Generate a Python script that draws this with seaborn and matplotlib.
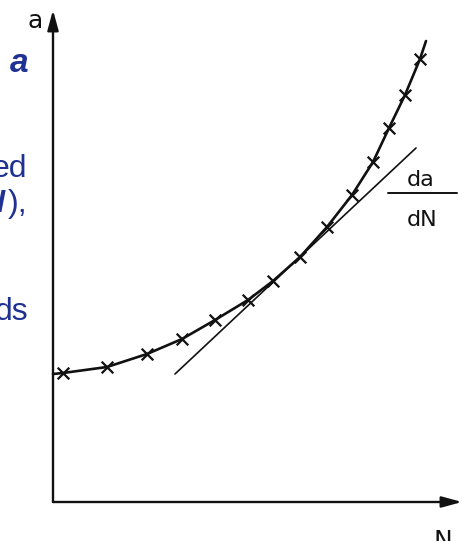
import numpy as np
import matplotlib
matplotlib.use('Agg')
import matplotlib.pyplot as plt
import seaborn as sns
import pandas as pd

# crack length a against number of cycles N (arbitrary units)
curve_N = [0.0, 0.25, 1.35, 2.35, 3.225, 4.05, 4.875, 5.5, 6.175, 6.85,
           7.475, 8.0, 8.4, 8.8, 9.175, 9.325]
curve_a = [3.2, 3.225, 3.375, 3.7, 4.075, 4.55, 5.05, 5.525, 6.125, 6.875,
           7.675, 8.5, 9.35, 10.175, 11.075, 11.525]

# measured points (crosses)
meas_N = curve_N[1:-1]
meas_a = curve_a[1:-1]

# tangent giving da/dN
tangent_N = [3.05, 9.075]
tangent_a = [3.2, 8.85]

# slide text peeking in from the left
blau = '#1f3192'
sketch_font = ['Liberation Sans Narrow', 'DejaVu Sans']

sns.set_style("white")
plt.rcParams['font.family'] = ['Liberation Sans', 'DejaVu Sans']

W, H = 462, 541
fig = plt.figure(figsize=(W / 100, H / 100), dpi=100)
ax = fig.add_axes([0, 0, 1, 1])
ax.set_xlim(-53 / 40, (W - 53) / 40)
ax.set_ylim((502 - H) / 40, 502 / 40)
ax.set_axis_off()

df_curve = pd.DataFrame({'N': curve_N, 'a': curve_a})
df_meas = pd.DataFrame({'N': meas_N, 'a': meas_a})

sns.lineplot(data=df_curve, x='N', y='a', sort=False, estimator=None,
             color='#111111', linewidth=1.9, ax=ax)
sns.lineplot(x=tangent_N, y=tangent_a, sort=False, estimator=None,
             color='#111111', linewidth=1.2, ax=ax)
sns.scatterplot(data=df_meas, x='N', y='a', marker='x', s=70,
                color='#111111', linewidth=1.6, ax=ax, zorder=3)

# axes with arrows
pfeil = dict(arrowstyle='-|>,head_length=1.1,head_width=0.3', lw=1.7,
             color='#111111', shrinkA=0, shrinkB=0, mutation_scale=11)
ax.annotate('', xy=(10.225, 0), xytext=(0, 0), arrowprops=pfeil)
ax.annotate('', xy=(0, 12.3), xytext=(0, 0), arrowprops=pfeil)

# labels of the sketch (pixel positions converted to figure fractions)
def fx(px):
    return px / W

def fy(py):
    return 1 - py / H

fig.text(fx(35), fy(28), 'a', ha='center', va='baseline', fontsize=18,
         family=sketch_font, color='#111111')
fig.text(fx(443), fy(529), 'N', ha='center', va='top', fontsize=18,
         family=sketch_font, color='#111111')
fig.text(fx(421), fy(186), 'da', ha='center', va='baseline', fontsize=16,
         family=sketch_font, color='#111111')
fig.text(fx(422), fy(226), 'dN', ha='center', va='baseline', fontsize=16,
         family=sketch_font, color='#111111')
fig.add_artist(plt.Line2D([fx(388), fx(457)], [fy(193), fy(193)],
                          color='#111111', lw=1.4))

# blue slide text, cut off at the left border
fig.text(fx(28), fy(72), 'a', ha='right', va='baseline', fontsize=24,
         fontweight='bold', fontstyle='italic', color=blau)
fig.text(fx(27), fy(177), 'ed', ha='right', va='baseline', fontsize=23,
         color=blau)
fig.text(fx(27), fy(212), '),', ha='right', va='baseline', fontsize=23,
         color=blau)
fig.text(fx(5), fy(212), 'N', ha='right', va='baseline', fontsize=23,
         fontweight='bold', fontstyle='italic', color=blau)
fig.text(fx(28), fy(320), 'ds', ha='right', va='baseline', fontsize=23,
         color=blau)

plt.savefig('out.png', dpi=100, facecolor='white')
